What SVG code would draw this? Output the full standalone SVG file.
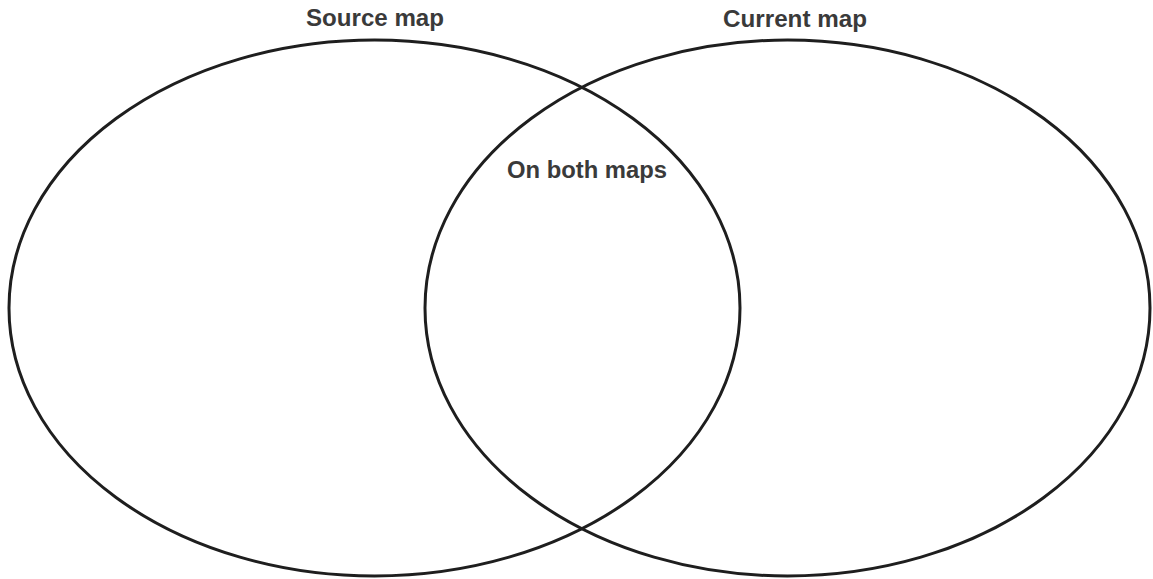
<svg xmlns="http://www.w3.org/2000/svg" width="1153" height="579" viewBox="0 0 1153 579">
<style>
.set{fill:none;stroke:#1e1e1e;stroke-width:3}
.lbl{font-family:"Liberation Sans",Arial,sans-serif;font-weight:bold;font-size:23px;fill:#3a3a3a}
</style>
<rect width="1153" height="579" fill="#fff"/>
<g id="source-map">
<ellipse class="set" cx="374.5" cy="308" rx="365.5" ry="268"/>
<text class="lbl" x="306" y="26" textLength="138" lengthAdjust="spacingAndGlyphs">Source map</text>
</g>
<g id="current-map">
<ellipse class="set" cx="787.5" cy="308" rx="362.5" ry="268"/>
<text class="lbl" x="723" y="27" textLength="144" lengthAdjust="spacingAndGlyphs">Current map</text>
</g>
<g id="both-maps">
<text class="lbl" x="507" y="178" textLength="160" lengthAdjust="spacingAndGlyphs">On both maps</text>
</g>
<g id="connectors"></g>
</svg>
